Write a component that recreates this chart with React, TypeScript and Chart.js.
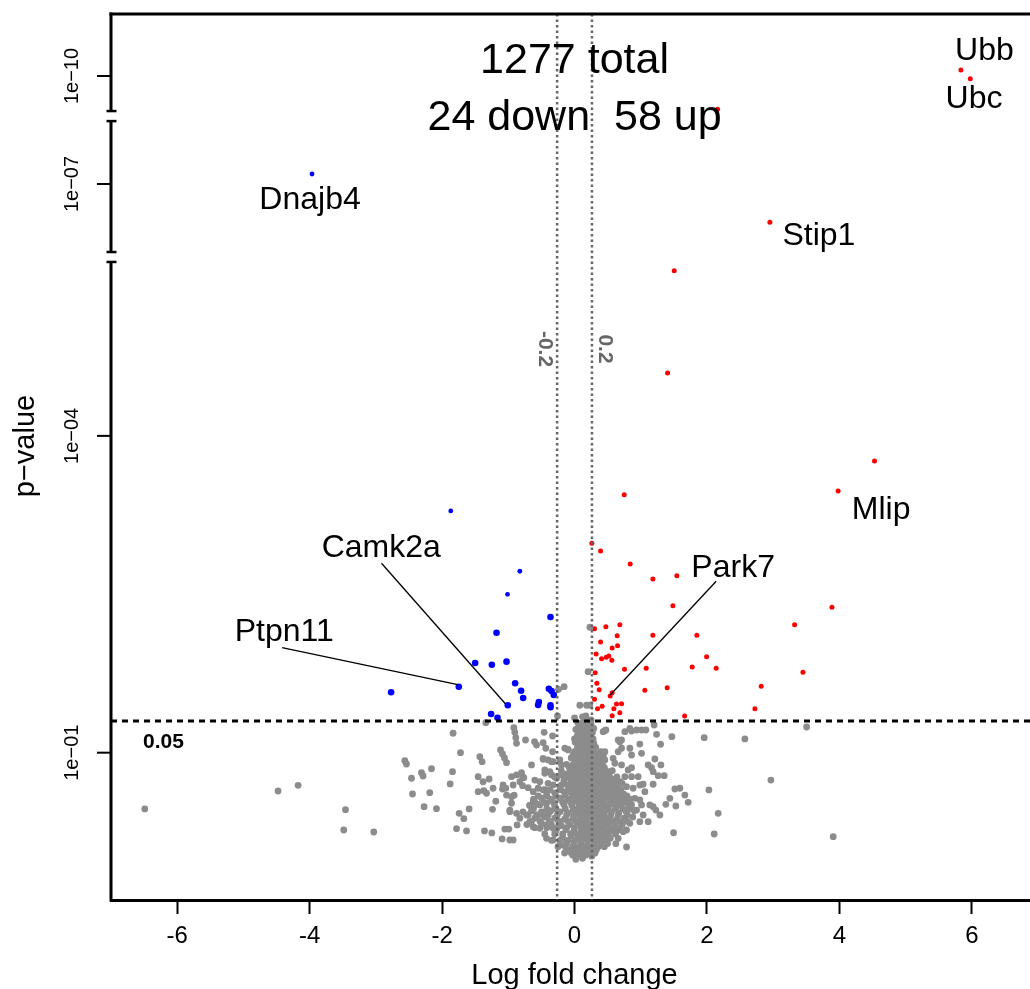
import React, { useEffect, useRef } from "react";
import { Chart, registerables } from "chart.js";

Chart.register(...registerables);

const FONT = '"Liberation Sans", Arial, Helvetica, sans-serif';

// ---------- data (x = log fold change, y = -log10 p-value) ----------
const xTickValues = [-6, -4, -2, 0, 2, 4, 6];
const yTickNegLog = [1, 4, 7, 10];
const yTickLabels = ["1e\u221201", "1e\u221204", "1e\u221207", "1e\u221210"];
const foldCut = 0.263;
const pCutNegLog = 1.301;
const pCutLabel = "0.05";
const totalCount = 1277;
const downCount = 24;
const upCount = 58;

const upPoints: [number, number][] = [
  [5.835, 10.057], [5.976, 9.975], [2.16, 9.685], [2.95, 6.638], [1.505, 5.564], [1.405, 4.596],
  [4.53, 3.762], [3.98, 3.478], [0.75, 3.443], [0.261, 2.983], [0.393, 2.91], [0.84, 2.787],
  [1.183, 2.645], [1.545, 2.676], [1.485, 2.392], [3.887, 2.377], [3.323, 2.212], [0.302, 2.174],
  [0.473, 2.193], [0.684, 2.212], [0.644, 2.108], [1.183, 2.112], [1.847, 2.112], [0.393, 2.048],
  [0.65, 2.013], [0.568, 1.991], [0.326, 1.935], [0.408, 1.89], [0.478, 1.903], [0.518, 1.916],
  [0.563, 1.875], [0.755, 1.79], [1.082, 1.799], [1.777, 1.812], [1.994, 1.909], [2.139, 1.799],
  [3.449, 1.761], [0.311, 1.758], [2.819, 1.629], [0.337, 1.657], [1.062, 1.591], [1.399, 1.616],
  [0.372, 1.597], [0.568, 1.568], [0.538, 1.537], [0.302, 1.506], [0.347, 1.417], [0.417, 1.439],
  [0.634, 1.461], [0.71, 1.464], [0.594, 1.417], [0.684, 1.379], [0.568, 1.35], [1.662, 1.348],
  [2.724, 1.417],
];

const downPoints: [number, number][] = [
  [-3.964, 7.095], [-1.869, 3.289], [-0.826, 2.718], [-1.012, 2.5], [-0.363, 2.285], [-1.178, 2.136],
  [-1.501, 1.849], [-1.249, 1.833], [-1.027, 1.862], [-2.77, 1.572], [-1.748, 1.625], [-0.897, 1.657],
  [-0.807, 1.587], [-0.776, 1.518], [-0.388, 1.606], [-0.347, 1.584], [-0.313, 1.546], [-0.539, 1.48],
  [-0.55, 1.452], [-0.363, 1.449], [-0.363, 1.43], [-1.008, 1.449], [-1.26, 1.366], [-1.163, 1.331],
];

const grayPoints: [number, number][] = [
  // scattered, left
  [-6.49, 0.467], [-4.477, 0.637], [-4.175, 0.691], [-3.459, 0.46], [-3.485, 0.268], [-3.032, 0.249],
  [-2.563, 0.924], [-2.538, 0.893], [-2.462, 0.758], [-2.311, 0.811], [-2.287, 0.779], [-2.16, 0.848],
  [-2.447, 0.609], [-2.186, 0.621], [-2.272, 0.489], [-2.085, 0.47],
  [-1.834, 1.184], [-1.722, 1.0], [-1.843, 0.82], [-1.879, 0.704], [-1.743, 0.426], [-1.672, 0.375],
  [-1.592, 0.467], [-1.782, 0.28], [-1.631, 0.259], [-1.36, 0.259], [-1.249, 0.24], [-1.094, 0.183],
  [-0.977, 0.173], [-0.927, 0.173], [-1.053, 0.277], [-0.992, 0.277], [-1.239, 0.464],
  [-1.34, 1.284], [-1.456, 0.773], [-1.381, 0.725], [-1.29, 0.751], [-1.456, 0.631], [-1.37, 0.64],
  [-1.329, 0.616], [-1.23, 0.663], [-1.43, 0.962], [-1.396, 0.915], [-1.118, 1.026], [-1.088, 0.988],
  [-1.058, 0.95], [-1.027, 0.905], [-0.65, 0.884], [-0.902, 1.193], [-0.887, 1.142], [-0.876, 1.089],
  [-0.74, 1.12], [-0.917, 1.237], [-0.604, 1.104], [-0.574, 1.073], [-0.459, 1.193], [-0.332, 1.158],
  [-0.474, 1.095], [-0.434, 1.042], [-0.332, 1.009], [-0.097, 1.032], [-0.474, 0.938], [-0.347, 0.915],
  [-0.222, 0.931], [-0.449, 0.836], [-0.373, 0.82], [-0.801, 0.811], [-0.785, 0.773], [-0.952, 0.773],
  [-1.079, 0.694], [-1.038, 0.663], [-1.189, 0.54], [-0.912, 0.597], [-0.952, 0.521], [-0.977, 0.456],
  [-0.876, 0.789], [-0.766, 0.763], [-1.088, 0.656], [-0.927, 0.694], [-0.826, 0.725], [-0.785, 0.688],
  [-0.701, 0.669], [-1.027, 0.599], [-0.952, 0.583], [-0.977, 0.441], [-0.876, 0.426], [-0.826, 0.379],
  [-0.867, 0.316], [-0.725, 0.41], [-0.675, 0.347], [-0.625, 0.299], [-0.625, 0.631], [-0.55, 0.663],
  [-0.474, 0.647], [-0.423, 0.599], [-0.625, 0.536], [-0.524, 0.505], [-0.423, 0.521], [-0.574, 0.41],
  [-0.474, 0.41], [-0.373, 0.441], [-0.524, 0.284], [-0.423, 0.316], [-0.323, 0.284], [-0.222, 0.347],
  [-0.423, 0.189], [-0.323, 0.173], [-0.222, 0.126], [-0.121, 0.157], [-0.021, 0.095], [-0.474, 0.947],
  [-0.399, 0.931], [-0.323, 0.915], [-0.147, 1.042], [-0.097, 1.026], [-0.449, 0.805], [-0.347, 0.789],
  [-0.272, 0.758], [-0.196, 0.884], [-0.196, 0.789], [-0.196, 0.694], [-0.323, 0.694], [-0.373, 0.647],
  [-0.524, 0.725], [-0.6, 0.741],
  // scattered, right
  [1.958, 1.142], [2.572, 1.13], [1.47, 1.152], [1.202, 1.262], [1.239, 1.174], [1.299, 1.08],
  [0.986, 1.082], [1.012, 0.994], [1.213, 0.94], [1.112, 0.884], [1.163, 0.858], [1.304, 0.884],
  [1.187, 0.82], [1.263, 0.782], [1.354, 0.782], [1.036, 0.701], [1.187, 0.701], [1.515, 0.656],
  [1.591, 0.663], [2.029, 0.647], [1.666, 0.599], [1.716, 0.53], [1.44, 0.568], [1.379, 0.511],
  [1.53, 0.495], [1.137, 0.505], [1.187, 0.489], [1.289, 0.41], [1.228, 0.457], [2.169, 0.426],
  [1.495, 0.242], [2.109, 0.23], [0.785, 0.107], [0.624, 0.138], [0.76, 1.199], [0.835, 1.231],
  [0.861, 1.205], [0.71, 1.12], [0.684, 1.104], [0.458, 1.208], [0.458, 1.009], [0.432, 0.978],
  [0.659, 1.009], [0.71, 1.042], [0.835, 1.042], [0.861, 0.978], [0.583, 0.947], [0.609, 0.9],
  [0.71, 0.884], [0.81, 0.836], [0.861, 0.858], [0.76, 0.773], [0.861, 0.773], [0.961, 0.773],
  [3.505, 1.243], [2.965, 0.741], [3.906, 0.205],
  [0.937, 1.215], [1.012, 1.215], [1.077, 1.215], [0.432, 1.199], [0.473, 1.215], [0.659, 1.12],
  [0.382, 0.994], [0.432, 0.962], [0.458, 0.931], [0.533, 0.82], [0.609, 0.741], [0.684, 0.725],
  [0.785, 0.678], [0.885, 0.663], [0.986, 0.694], [1.062, 0.631], [0.659, 0.631], [0.785, 0.583],
  [0.911, 0.568], [0.986, 0.552], [1.012, 0.505], [0.861, 0.505], [0.937, 0.457], [1.036, 0.41],
  [1.112, 0.347], [0.986, 0.347], [0.835, 0.331], [0.785, 0.268], [0.734, 0.252], [0.659, 0.189],
  [0.609, 0.252],
  // above the cut, inside the fold lines
  [0.232, 2.188], [0.205, 1.767], [-0.242, 1.6], [-0.157, 1.625], [-0.257, 1.348], [0.08, 1.449],
  [0.181, 1.449], [0.231, 1.449], [0.171, 1.348], [0.0, 1.33], [0.12, 1.34], [0.25, 1.31],
  // dense core
  [0.05, 1.28], [0.12, 1.28], [0.19, 1.29], [0.25, 1.27],
  [0.08, 1.25], [0.15, 1.25], [0.22, 1.25],
  [0.02, 1.22], [0.09, 1.23], [0.16, 1.22], [0.23, 1.21], [0.29, 1.23],
  [0.06, 1.19], [0.13, 1.19], [0.2, 1.19], [0.27, 1.19],
  [0.04, 1.16], [0.11, 1.17], [0.18, 1.16], [0.25, 1.15],
  [0.0, 1.13], [0.07, 1.13], [0.14, 1.13], [0.21, 1.13], [0.28, 1.13],
  [0.01, 1.1], [0.08, 1.1], [0.15, 1.11], [0.22, 1.1], [0.29, 1.09],
  [0.05, 1.07], [0.12, 1.07], [0.19, 1.07], [0.26, 1.07],
  [0.04, 1.04], [0.11, 1.05], [0.18, 1.04], [0.25, 1.03], [0.32, 1.05],
  [0.0, 1.01], [0.08, 1.01], [0.15, 1.01], [0.22, 1.01], [0.29, 1.01], [0.4, 1.01],
  [-0.02, 0.98], [0.06, 0.98], [0.13, 0.99], [0.2, 0.98], [0.27, 0.97], [0.34, 0.98],
  [-0.05, 0.95], [0.03, 0.95], [0.1, 0.95], [0.17, 0.95], [0.24, 0.95], [0.31, 0.95], [0.42, 0.95],
  [0.02, 0.92], [0.09, 0.93], [0.16, 0.92], [0.23, 0.91], [0.3, 0.92], [0.38, 0.93],
  [-0.12, 0.89], [-0.02, 0.89], [0.06, 0.89], [0.13, 0.89], [0.2, 0.89], [0.27, 0.89], [0.34, 0.89], [0.42, 0.89],
  [-0.08, 0.86], [0.0, 0.86], [0.07, 0.87], [0.14, 0.86], [0.21, 0.85], [0.28, 0.86], [0.36, 0.87], [0.45, 0.86],
  [-0.2, 0.83], [-0.06, 0.83], [0.02, 0.83], [0.09, 0.83], [0.16, 0.83], [0.23, 0.83], [0.3, 0.83], [0.38, 0.83],
  [0.47, 0.83], [0.57, 0.83],
  [-0.12, 0.8], [-0.03, 0.81], [0.05, 0.8], [0.12, 0.79], [0.19, 0.8], [0.26, 0.81], [0.33, 0.8], [0.41, 0.79], [0.5, 0.8],
  [-0.3, 0.77], [-0.1, 0.77], [-0.01, 0.77], [0.07, 0.77], [0.14, 0.77], [0.21, 0.77], [0.28, 0.77], [0.36, 0.77],
  [0.44, 0.77], [0.53, 0.77], [0.64, 0.77],
  [-0.16, 0.74], [-0.06, 0.75], [0.02, 0.74], [0.1, 0.73], [0.17, 0.74], [0.24, 0.75], [0.31, 0.74], [0.39, 0.73],
  [0.48, 0.74], [0.57, 0.75],
  [-0.4, 0.71], [-0.15, 0.71], [-0.05, 0.71], [0.04, 0.71], [0.12, 0.71], [0.19, 0.71], [0.26, 0.71], [0.34, 0.71],
  [0.42, 0.71], [0.51, 0.71], [0.61, 0.71], [0.72, 0.71],
  [-0.22, 0.68], [-0.1, 0.69], [-0.01, 0.68], [0.07, 0.67], [0.15, 0.68], [0.22, 0.69], [0.29, 0.68], [0.37, 0.67],
  [0.46, 0.68], [0.55, 0.69], [0.65, 0.68],
  [-0.45, 0.65], [-0.22, 0.65], [-0.09, 0.65], [0.01, 0.65], [0.09, 0.65], [0.17, 0.65], [0.24, 0.65], [0.32, 0.65],
  [0.4, 0.65], [0.49, 0.65], [0.59, 0.65], [0.7, 0.65],
  [-0.3, 0.62], [-0.16, 0.63], [-0.05, 0.62], [0.04, 0.61], [0.12, 0.62], [0.2, 0.63], [0.27, 0.62], [0.35, 0.61],
  [0.44, 0.62], [0.53, 0.63], [0.63, 0.62], [0.74, 0.61],
  [-0.55, 0.59], [-0.42, 0.59], [-0.28, 0.59], [-0.14, 0.59], [-0.02, 0.59], [0.08, 0.59], [0.16, 0.59], [0.23, 0.59],
  [0.3, 0.59], [0.38, 0.59], [0.47, 0.59], [0.57, 0.59], [0.68, 0.59], [0.79, 0.59],
  [-0.62, 0.56], [-0.5, 0.57], [-0.36, 0.56], [-0.22, 0.57], [-0.1, 0.56], [0.01, 0.55], [0.1, 0.56], [0.18, 0.57],
  [0.25, 0.56], [0.33, 0.55], [0.42, 0.56], [0.51, 0.57], [0.61, 0.56], [0.72, 0.55], [0.84, 0.56],
  [-0.6, 0.53], [-0.46, 0.53], [-0.32, 0.53], [-0.18, 0.53], [-0.06, 0.53], [0.05, 0.53], [0.13, 0.53], [0.21, 0.53],
  [0.28, 0.53], [0.36, 0.53], [0.45, 0.53], [0.55, 0.53], [0.66, 0.53], [0.77, 0.53],
  [-0.68, 0.5], [-0.55, 0.51], [-0.3, 0.5], [-0.16, 0.51], [-0.04, 0.5], [0.07, 0.49], [0.15, 0.5], [0.23, 0.51],
  [0.31, 0.5], [0.4, 0.49], [0.49, 0.5], [0.59, 0.51], [0.7, 0.5], [0.82, 0.49],
  [-0.62, 0.47], [-0.42, 0.47], [-0.28, 0.47], [-0.14, 0.47], [-0.02, 0.47], [0.08, 0.47], [0.16, 0.47], [0.24, 0.47],
  [0.32, 0.47], [0.41, 0.47], [0.51, 0.47], [0.62, 0.47], [0.73, 0.47], [0.85, 0.47],
  [-0.78, 0.44], [-0.65, 0.45], [-0.5, 0.44], [-0.36, 0.45], [-0.22, 0.44], [-0.09, 0.43], [0.03, 0.44], [0.12, 0.45],
  [0.2, 0.44], [0.28, 0.43], [0.37, 0.44], [0.46, 0.45], [0.56, 0.44], [0.67, 0.43], [0.78, 0.44], [0.9, 0.45],
  [-0.7, 0.41], [-0.55, 0.41], [-0.4, 0.41], [-0.26, 0.41], [-0.12, 0.41], [0.0, 0.41], [0.1, 0.41], [0.18, 0.41],
  [0.26, 0.41], [0.35, 0.41], [0.45, 0.41], [0.55, 0.41], [0.66, 0.41], [0.8, 0.41],
  [-0.6, 0.38], [-0.45, 0.39], [-0.3, 0.38], [-0.15, 0.37], [-0.02, 0.38], [0.09, 0.39], [0.17, 0.38], [0.25, 0.37],
  [0.34, 0.38], [0.43, 0.39], [0.53, 0.38], [0.64, 0.37], [0.75, 0.38], [0.88, 0.39],
  [-0.65, 0.35], [-0.52, 0.35], [-0.38, 0.35], [-0.24, 0.35], [-0.1, 0.35], [0.02, 0.35], [0.12, 0.35], [0.2, 0.35],
  [0.28, 0.35], [0.37, 0.35], [0.47, 0.35], [0.57, 0.35], [0.68, 0.35], [0.8, 0.35],
  [-0.72, 0.32], [-0.5, 0.33], [-0.35, 0.32], [-0.2, 0.31], [-0.07, 0.32], [0.05, 0.33], [0.14, 0.32], [0.22, 0.31],
  [0.31, 0.32], [0.4, 0.33], [0.5, 0.32], [0.61, 0.31], [0.72, 0.32],
  [-0.6, 0.29], [-0.42, 0.29], [-0.26, 0.29], [-0.12, 0.29], [0.0, 0.29], [0.1, 0.29], [0.18, 0.29], [0.26, 0.29],
  [0.34, 0.29], [0.43, 0.29], [0.53, 0.29], [0.64, 0.29],
  [-0.28, 0.26], [-0.13, 0.27], [-0.01, 0.26], [0.1, 0.25], [0.19, 0.26], [0.28, 0.27], [0.37, 0.26], [0.47, 0.25],
  [0.58, 0.26], [0.69, 0.27],
  [-0.45, 0.23], [-0.3, 0.23], [-0.18, 0.23], [-0.06, 0.23], [0.04, 0.23], [0.14, 0.23], [0.23, 0.23], [0.32, 0.23],
  [0.41, 0.23], [0.51, 0.23], [0.62, 0.23],
  [-0.18, 0.2], [-0.05, 0.21], [0.06, 0.2], [0.15, 0.19], [0.24, 0.2], [0.33, 0.21], [0.43, 0.2], [0.54, 0.19],
  [-0.35, 0.17], [-0.22, 0.17], [-0.1, 0.17], [0.01, 0.17], [0.11, 0.17], [0.2, 0.17], [0.29, 0.17], [0.38, 0.17],
  [0.48, 0.17],
  [-0.12, 0.14], [-0.01, 0.15], [0.1, 0.14], [0.2, 0.13], [0.3, 0.14], [0.4, 0.15], [0.5, 0.14],
  [-0.25, 0.11], [-0.14, 0.11], [-0.03, 0.11], [0.07, 0.11], [0.17, 0.11], [0.26, 0.11], [0.36, 0.11], [0.45, 0.11],
  [-0.08, 0.08], [0.03, 0.09], [0.13, 0.08], [0.23, 0.07], [0.33, 0.08],
  [-0.15, 0.05], [-0.05, 0.05], [0.04, 0.05], [0.14, 0.05], [0.23, 0.05], [0.31, 0.05],
  [-0.03, 0.03], [0.07, 0.04], [0.17, 0.03], [0.26, 0.02],
  [0.02, -0.01], [0.12, 0.0],
];

const geneNames = ["Ubb", "Ubc", "Stip1", "Mlip", "Park7", "Dnajb4", "Camk2a", "Ptpn11"];
const geneLogFC = [5.835, 5.976, 2.95, 3.98, 0.538, -3.964, -1.008, -1.748];
const geneNegLogP = [10.057, 9.975, 6.638, 3.478, 1.537, 7.095, 1.449, 1.625];

// ---------- broken-axis layout (display units on a linear scale) ----------
const Y_MIN = -0.395;
const Y_MAX = 7.995;
const axisSegments: [number, number][] = [
  [Y_MIN, 5.647],
  [5.741, 6.981],
  [7.076, Y_MAX],
];
const toDisplay = (v: number) => (v > 8.5 ? v - 2.592 : v > 6.0 ? v - 0.615 : v);

// label placement (pixel offsets from the point): [textDx, baselineDy, lineFromDx, lineFromDy, lineToDx, lineToDy]
const labelPlacement: number[][] = [
  [23.5, -10],
  [3.7, 29.3],
  [49, 23],
  [43, 28],
  [123, -119, 106, -114.7, 0, -1],
  [-2, 35],
  [-126.5, -148.3, -126.3, -142, -2, -1],
  [-174.5, -45.7, -176.7, -39, -1, -2],
];

const volcanoPlugin = {
  id: "volcano",
  afterDatasetsDraw(chart: any) {
    const { ctx, chartArea: a, scales } = chart;
    const xs = scales.x;
    const ys = scales.y;
    const px = (v: number) => xs.getPixelForValue(v);
    const py = (v: number) => ys.getPixelForValue(toDisplay(v));
    ctx.save();

    // fold-change dotted lines
    ctx.strokeStyle = "#666666";
    ctx.lineWidth = 2.5;
    ctx.setLineDash([2.5, 3]);
    for (const f of [-foldCut, foldCut]) {
      const x = px(f);
      ctx.beginPath();
      ctx.moveTo(x, a.top);
      ctx.lineTo(x, a.bottom);
      ctx.stroke();
    }
    // p-value cut
    ctx.strokeStyle = "#000";
    ctx.lineWidth = 3;
    ctx.setLineDash([6, 5]);
    const ty = py(pCutNegLog);
    ctx.beginPath();
    ctx.moveTo(a.left, ty);
    ctx.lineTo(a.right, ty);
    ctx.stroke();
    ctx.setLineDash([]);

    // fold labels
    ctx.fillStyle = "#666666";
    ctx.font = `bold 21px ${FONT}`;
    ctx.textAlign = "center";
    ctx.textBaseline = "middle";
    const foldLbl: [number, string, number][] = [[-foldCut, "-0.2", -12], [foldCut, "0.2", 13]];
    for (const [f, t, dx] of foldLbl) {
      ctx.save();
      ctx.translate(px(f) + dx, a.top + 335);
      ctx.rotate(Math.PI / 2);
      ctx.fillText(t, 0, 0);
      ctx.restore();
    }

    // 0.05 label
    ctx.fillStyle = "#000";
    ctx.font = `bold 21px ${FONT}`;
    ctx.textAlign = "left";
    ctx.textBaseline = "alphabetic";
    ctx.fillText(pCutLabel, a.left + 32, ty + 27);

    // top border
    ctx.strokeStyle = "#000";
    ctx.lineWidth = 3;
    ctx.beginPath();
    ctx.moveTo(a.left - 1.5, a.top);
    ctx.lineTo(a.right, a.top);
    ctx.stroke();

    // broken left axis
    axisSegments.forEach(([lo, hi], i) => {
      const yTop = ys.getPixelForValue(hi);
      const yBot = ys.getPixelForValue(lo);
      ctx.lineWidth = 3;
      ctx.beginPath();
      ctx.moveTo(a.left, i === axisSegments.length - 1 ? yTop - 1.5 : yTop);
      ctx.lineTo(a.left, i === 0 ? yBot + 1.5 : yBot);
      ctx.stroke();
      ctx.lineWidth = 2.5;
      if (i < axisSegments.length - 1) {
        ctx.beginPath();
        ctx.moveTo(a.left - 4.5, yTop);
        ctx.lineTo(a.left + 5.5, yTop);
        ctx.stroke();
      }
      if (i > 0) {
        ctx.beginPath();
        ctx.moveTo(a.left - 4.5, yBot);
        ctx.lineTo(a.left + 5.5, yBot);
        ctx.stroke();
      }
    });

    // y ticks and labels
    ctx.lineWidth = 2;
    ctx.font = `20px ${FONT}`;
    ctx.textAlign = "center";
    ctx.textBaseline = "middle";
    yTickNegLog.forEach((v, i) => {
      const y = py(v);
      ctx.beginPath();
      ctx.moveTo(a.left - 14, y);
      ctx.lineTo(a.left, y);
      ctx.stroke();
      ctx.save();
      ctx.translate(a.left - 39, y);
      ctx.rotate(-Math.PI / 2);
      ctx.fillText(yTickLabels[i], 0, 0);
      ctx.restore();
    });

    // axis titles
    ctx.font = `29px ${FONT}`;
    ctx.save();
    ctx.translate(26, (a.top + a.bottom) / 2 - 11);
    ctx.rotate(-Math.PI / 2);
    ctx.fillText("p\u2212value", 0, 0);
    ctx.restore();
    ctx.textBaseline = "alphabetic";
    ctx.fillText("Log fold change", px(0), a.bottom + 84);

    // counts title
    ctx.font = `43px ${FONT}`;
    ctx.fillText(`${totalCount} total`, px(0), a.top + 59);
    ctx.fillText(`${downCount} down  ${upCount} up`, px(0), a.top + 116);

    // gene labels
    ctx.font = `32px ${FONT}`;
    geneNames.forEach((name, i) => {
      const gx = px(geneLogFC[i]);
      const gy = py(geneNegLogP[i]);
      const p = labelPlacement[i];
      if (p.length > 2) {
        ctx.strokeStyle = "#000";
        ctx.lineWidth = 1.3;
        ctx.beginPath();
        ctx.moveTo(gx + p[2], gy + p[3]);
        ctx.lineTo(gx + p[4], gy + p[5]);
        ctx.stroke();
      }
      ctx.fillText(name, gx + p[0], gy + p[1]);
    });

    ctx.restore();
  },
};

export default function App() {
  const ref = useRef<HTMLCanvasElement>(null);
  useEffect(() => {
    const toPts = (arr: [number, number][]) => arr.map(([x, y]) => ({ x, y: toDisplay(y) }));
    const chart = new Chart(ref.current as HTMLCanvasElement, {
      type: "scatter",
      data: {
        datasets: [
          { data: toPts(grayPoints), backgroundColor: "#8c8c8c", pointRadius: 3.4, borderWidth: 0 },
          {
            data: toPts(downPoints),
            backgroundColor: "#0000ff",
            pointRadius: (c: any) => (c.raw && c.raw.y > 2.4 ? 2.4 : 3.3),
            borderWidth: 0,
          },
          { data: toPts(upPoints), backgroundColor: "#ff0000", pointRadius: 2.5, borderWidth: 0 },
        ],
      },
      options: {
        animation: false,
        responsive: false,
        maintainAspectRatio: false,
        layout: { autoPadding: false, padding: { left: 111, top: 14, right: 0, bottom: 0 } },
        plugins: { legend: { display: false }, tooltip: { enabled: false } },
        scales: {
          x: {
            type: "linear",
            min: -7,
            max: 6.878,
            afterBuildTicks: (s: any) => {
              s.ticks = xTickValues.map((value) => ({ value }));
            },
            afterFit: (s: any) => {
              s.height = 89;
              s.paddingLeft = 0;
              s.paddingRight = 0;
            },
            grid: { drawOnChartArea: false, drawTicks: true, tickLength: 14, tickWidth: 2, tickColor: "#000" },
            border: { display: true, color: "#000", width: 3 },
            ticks: {
              color: "#000",
              font: { family: FONT, size: 24 },
              padding: 8,
              maxRotation: 0,
              autoSkip: false,
              callback: (v: any) => String(v),
            },
          },
          y: { type: "linear", min: Y_MIN, max: Y_MAX, display: false },
        },
      },
      plugins: [volcanoPlugin],
    } as any);
    return () => chart.destroy();
  }, []);
  return (
    <div style={{ position: "absolute", left: 0, top: 0, width: 1030, height: 989 }}>
      <canvas ref={ref} width={1030} height={989} style={{ display: "block", width: 1030, height: 989 }} />
    </div>
  );
}
